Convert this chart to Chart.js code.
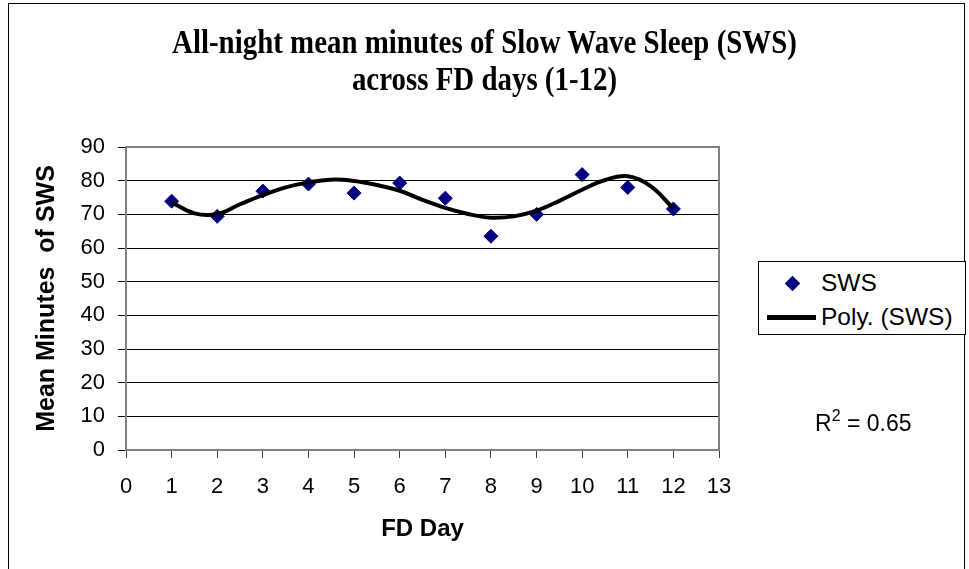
<!DOCTYPE html>
<html lang="en">
<head>
  <meta charset="UTF-8" />
  <title>All-night mean minutes of SWS</title>
  <script src="https://cdn.jsdelivr.net/npm/chart.js"></script>
  <style>
    body { margin: 0; background: #fff; }
    #wrap { position: relative; width: 969px; height: 569px; font-family: "Liberation Sans", Arial, sans-serif; }
    #chart { position: absolute; left: 0; top: 0; }
    .title {
      position: absolute; left: 0; top: 23px; width: 969px; text-align: center;
      font: bold 34px/37px "Liberation Serif", "Times New Roman", serif; color: #000;
      transform: scaleX(0.85); transform-origin: 484.5px 0;
    }
    .legend {
      position: absolute; left: 758px; top: 261px; width: 206px; height: 72px;
      border: 1px solid #000; background: #fff; font-size: 24.5px; color: #000;
    }
    .legend .row { position: absolute; left: 0; height: 30px; line-height: 30px; }
    .legend .txt { position: absolute; left: 62px; white-space: nowrap; }
    .legend .dia { position: absolute; left: 28px; top: 10px; width: 11px; height: 11px; background: #000080; transform: rotate(45deg); }
    .legend .ln { position: absolute; left: 8px; top: 13px; width: 49px; height: 5px; background: #000; }
    .r2 { position: absolute; left: 815px; top: 410px; font-size: 23px; color: #000; white-space: nowrap; }
    .r2 sup { font-size: 16px; vertical-align: 10px; line-height: 0; }
  </style>
</head>
<body>
  <div id="wrap">
    <canvas id="chart" width="969" height="569"></canvas>
    <div class="title">All-night mean minutes of Slow Wave Sleep (SWS)<br>across FD days (1-12)</div>
    <div class="legend">
      <div class="row" style="top:6px;"><span class="dia"></span><span class="txt">SWS</span></div>
      <div class="row" style="top:40px;"><span class="ln"></span><span class="txt">Poly. (SWS)</span></div>
    </div>
    <div class="r2">R<sup>2</sup> = 0.65</div>
  </div>

  <script>
    // FD days and mean SWS minutes
    const fdDays = [1, 2, 3, 4, 5, 6, 7, 8, 9, 10, 11, 12];
    const swsMinutes = [73.9, 69.4, 76.9, 79.0, 76.3, 79.3, 74.8, 63.5, 70.0, 81.8, 78.0, 71.6];

    // polynomial trendline, every half day
    const trendDays = [1, 1.5, 2, 2.5, 3, 3.5, 4, 4.5, 5, 5.5, 6, 6.5, 7, 7.5, 8, 8.5, 9, 9.5, 10, 10.5, 11, 11.5, 12];
    const trendMinutes = [73.6, 70.3, 70.1, 73.0, 75.7, 78.0, 79.5, 80.3, 79.9, 78.7, 77.0, 74.3, 71.9, 70.1, 69.0, 69.4, 71.1, 74.0, 77.3, 80.2, 81.3, 78.4, 71.7];

    const xTicks = { min: 0, max: 13, step: 1 };
    const yTicks = { min: 0, max: 90, step: 10 };

    const swsPoints = fdDays.map((d, i) => ({ x: d, y: swsMinutes[i] }));
    const trendPoints = trendDays.map((d, i) => ({ x: d, y: trendMinutes[i] }));

    // frame around plot area + outer chart border
    const frames = {
      id: "frames",
      afterDraw(chart) {
        const { ctx, chartArea: a } = chart;
        ctx.save();
        ctx.strokeStyle = "#808080";
        ctx.lineWidth = 2;
        ctx.strokeRect(a.left, a.top, a.right - a.left, a.bottom - a.top);
        ctx.strokeStyle = "#000";
        ctx.lineWidth = 1;
        ctx.strokeRect(8.5, 3.5, 956, 600);
        ctx.restore();
      }
    };

    const font = "'Liberation Sans', Arial, sans-serif";

    new Chart(document.getElementById("chart"), {
      type: "scatter",
      data: {
        datasets: [
          {
            label: "Poly. (SWS)",
            data: trendPoints,
            showLine: true,
            borderColor: "#000",
            borderWidth: 4,
            pointRadius: 0,
            tension: 0.4,
            order: 0
          },
          {
            label: "SWS",
            data: swsPoints,
            pointStyle: "rectRot",
            pointRadius: 7,
            backgroundColor: "#000080",
            borderColor: "#000080",
            order: 1
          }
        ]
      },
      options: {
        responsive: false,
        animation: false,
        layout: { padding: { top: 147, right: 250, bottom: 25, left: 0 } },
        plugins: {
          legend: { display: false },
          tooltip: { enabled: false }
        },
        scales: {
          x: {
            type: "linear",
            min: xTicks.min,
            max: xTicks.max,
            ticks: { stepSize: xTicks.step, padding: 16, color: "#000", font: { family: font, size: 22 } },
            grid: { drawOnChartArea: false, drawTicks: true, tickLength: 8, tickColor: "#404040" },
            border: { color: "#808080", width: 2 },
            title: { display: true, text: "FD Day", color: "#000", padding: 0, font: { family: font, size: 24, weight: "bold" } },
            afterFit(scale) { scale.height = 94; }
          },
          y: {
            min: yTicks.min,
            max: yTicks.max,
            ticks: { stepSize: yTicks.step, padding: 13, color: "#000", font: { family: font, size: 22 } },
            grid: { color: "#000", lineWidth: 1, tickLength: 8 },
            border: { color: "#808080", width: 2 },
            title: { display: true, text: "Mean Minutes  of SWS", color: "#000", padding: { top: 32, bottom: 0 }, font: { family: font, size: 25, weight: "bold" } },
            afterFit(scale) { scale.width = 126; }
          }
        }
      },
      plugins: [frames]
    });
  </script>
</body>
</html>
